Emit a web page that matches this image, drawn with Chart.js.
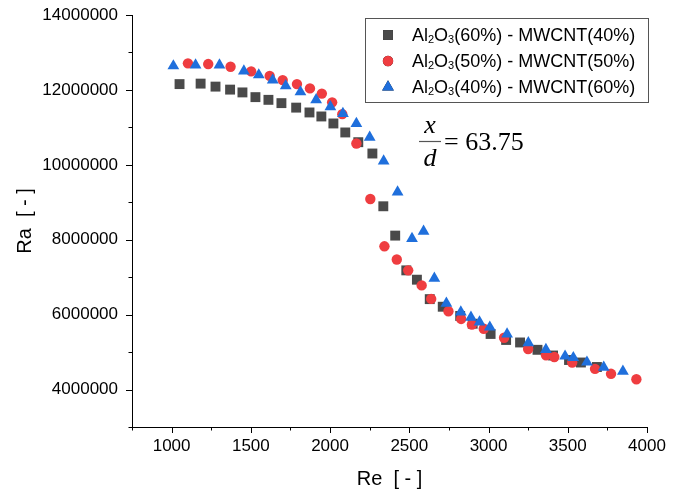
<!DOCTYPE html>
<html>
<head>
<meta charset="utf-8">
<script src="https://cdn.jsdelivr.net/npm/chart.js@4.4.0/dist/chart.umd.min.js"></script>
<style>
    html, body { margin: 0; padding: 0; background: #fff; }
    #wrap { width: 680px; height: 494px; }
</style>
</head>
<body>
<div id="wrap"><canvas id="grafico" width="680" height="494"></canvas></div>
<script>
// Valores (Re, Ra) para cada mezcla
const etiquetas = ['Al₂O₃(60%) - MWCNT(40%)', 'Al₂O₃(50%) - MWCNT(50%)', 'Al₂O₃(40%) - MWCNT(60%)'];

const reCuadros = [1050, 1183, 1277, 1369, 1447, 1529, 1611, 1693, 1786, 1870, 1945, 2021, 2096, 2178, 2267,
    2336, 2411, 2481, 2548, 2629, 2711, 2821, 2900, 3013, 3111, 3199, 3309, 3407, 3508, 3583, 3684];
const raCuadros = [12155000, 12168000, 12088000, 12008000, 11933000, 11807000, 11735000, 11647000, 11527000,
    11398000, 11291000, 11104000, 10864000, 10604000, 10302000, 8893000, 8110000, 7182000, 6933000, 6414000,
    6211000, 5965000, 5757000, 5484000, 5324000, 5257000, 5061000, 4909000, 4789000, 4722000, 4602000];

const reCirculos = [1103, 1231, 1372, 1502, 1619, 1701, 1791, 1873, 1948, 2013, 2077, 2166, 2254, 2343, 2421,
    2493, 2578, 2638, 2747, 2827, 2895, 2970, 3098, 3250, 3363, 3415, 3528, 3672, 3773, 3933];
const raCirculos = [12709000, 12690000, 12618000, 12495000, 12374000, 12262000, 12155000, 12040000, 11901000,
    11668000, 11353000, 10570000, 9086000, 7824000, 7471000, 7182000, 6781000, 6420000, 6091000, 5885000,
    5733000, 5623000, 5382000, 5083000, 4917000, 4869000, 4722000, 4553000, 4420000, 4275000];

const reTriangulos = [1011, 1151, 1302, 1456, 1550, 1638, 1720, 1813, 1912, 2002, 2081, 2166, 2250, 2338, 2426,
    2517, 2590, 2658, 2734, 2825, 2889, 2943, 3008, 3117, 3251, 3362, 3483, 3535, 3621, 3727, 3848];
const raTriangulos = [12640000, 12665000, 12665000, 12505000, 12400000, 12260000, 12110000, 11945000, 11735000,
    11550000, 11370000, 11100000, 10735000, 10100000, 9270000, 8030000, 8225000, 6970000, 6300000, 6070000,
    5930000, 5800000, 5665000, 5480000, 5250000, 5065000, 4890000, 4850000, 4730000, 4595000, 4485000];

// Marcas principales con etiqueta
const ticksX = [1000, 1500, 2000, 2500, 3000, 3500, 4000];
const ticksY = [4000000, 6000000, 8000000, 10000000, 12000000, 14000000];

const colores = ['#4a4a4a', '#ef3d40', '#1f6fdc'];
const fuente = '"Liberation Sans", Arial, sans-serif';

function armarPuntos(xs, ys) {
    return xs.map((x, i) => ({ x: x, y: ys[i] }));
}

// Texto con subindices (Al2O3)
function textoConSubindices(ctx, texto, x, y, size) {
    const subs = '₀₁₂₃₄₅₆₇₈₉';
    let cx = x;
    for (const ch of texto) {
        const k = subs.indexOf(ch);
        if (k >= 0) {
            ctx.font = Math.round(size * 0.62) + 'px ' + fuente;
            ctx.fillText(String(k), cx, y + size * 0.22);
            cx += ctx.measureText(String(k)).width;
        } else {
            ctx.font = size + 'px ' + fuente;
            ctx.fillText(ch, cx, y);
            cx += ctx.measureText(ch).width;
        }
    }
}

// Marcas mayores y menores hacia afuera de los ejes
const marcasEjes = {
    id: 'marcasEjes',
    afterDraw(chart) {
        const ctx = chart.ctx;
        const area = chart.chartArea;
        ctx.save();
        ctx.strokeStyle = '#000';
        ctx.lineWidth = 1;
        chart.scales.x.ticks.forEach(t => {
            const px = Math.round(chart.scales.x.getPixelForValue(t.value)) + 0.5;
            const largo = ticksX.includes(t.value) ? 6 : 3.5;
            ctx.beginPath();
            ctx.moveTo(px, area.bottom);
            ctx.lineTo(px, area.bottom + largo);
            ctx.stroke();
        });
        chart.scales.y.ticks.forEach(t => {
            const py = Math.round(chart.scales.y.getPixelForValue(t.value)) + 0.5;
            const largo = ticksY.includes(t.value) ? 6 : 3.5;
            ctx.beginPath();
            ctx.moveTo(area.left - largo, py);
            ctx.lineTo(area.left, py);
            ctx.stroke();
        });
        ctx.restore();
    }
};

// Leyenda con recuadro y la anotacion x/d
const leyendaYNota = {
    id: 'leyendaYNota',
    afterDraw(chart) {
        const ctx = chart.ctx;
        ctx.save();
        ctx.strokeStyle = '#555';
        ctx.lineWidth = 1;
        ctx.strokeRect(365.5, 18.5, 283, 84);

        const filas = [35, 61, 87];
        chart.data.datasets.forEach((ds, i) => {
            Chart.helpers.drawPoint(ctx, {
                pointStyle: ds.pointStyle,
                radius: ds.pointRadius,
                borderWidth: 0
            }, 388, filas[i]);
            ctx.fillStyle = ds.backgroundColor;
            ctx.fill();
            ctx.fillStyle = '#000';
            ctx.textBaseline = 'middle';
            ctx.textAlign = 'left';
            textoConSubindices(ctx, ds.label, 412, filas[i] + 1, 18);
        });

        // x/d = 63.75
        ctx.fillStyle = '#000';
        ctx.textAlign = 'center';
        ctx.textBaseline = 'alphabetic';
        ctx.font = 'italic 26px "Liberation Serif", "Times New Roman", serif';
        ctx.fillText('x', 430, 133);
        ctx.fillText('d', 430, 166);
        ctx.beginPath();
        ctx.moveTo(419, 141.5);
        ctx.lineTo(441, 141.5);
        ctx.lineWidth = 1.2;
        ctx.stroke();
        ctx.textAlign = 'left';
        ctx.font = '26px "Liberation Serif", "Times New Roman", serif';
        ctx.fillText('= 63.75', 444, 150);
        ctx.restore();
    }
};

Chart.defaults.font.family = fuente;
Chart.defaults.color = '#000';

const ctx = document.getElementById('grafico').getContext('2d');
const grafico = new Chart(ctx, {
    type: 'scatter',
    data: {
        datasets: [
            {
                label: etiquetas[0],
                data: armarPuntos(reCuadros, raCuadros),
                pointStyle: 'rect',
                pointRadius: 7,
                backgroundColor: colores[0],
                borderWidth: 0,
                order: 2
            },
            {
                label: etiquetas[1],
                data: armarPuntos(reCirculos, raCirculos),
                pointStyle: 'circle',
                pointRadius: 5.2,
                backgroundColor: colores[1],
                borderWidth: 0,
                order: 1
            },
            {
                label: etiquetas[2],
                data: armarPuntos(reTriangulos, raTriangulos),
                pointStyle: 'triangle',
                pointRadius: 6.8,
                backgroundColor: colores[2],
                borderWidth: 0,
                order: 0
            }
        ]
    },
    options: {
        responsive: false,
        animation: false,
        events: [],
        layout: { padding: { left: 0, top: 15, right: 33, bottom: 0 } },
        plugins: {
            legend: { display: false },
            tooltip: { enabled: false }
        },
        scales: {
            x: {
                type: 'linear',
                min: 750,
                max: 4000,
                afterFit: function (scale) { scale.height = 67; },
                grid: { display: false, drawTicks: false },
                border: { display: true, color: '#000', width: 1 },
                ticks: {
                    stepSize: 250,
                    maxTicksLimit: 20,
                    autoSkip: false,
                    maxRotation: 0,
                    padding: 9,
                    font: { size: 17 },
                    callback: function (v) { return ticksX.includes(v) ? String(v) : ''; }
                },
                title: {
                    display: true,
                    text: 'Re  [ - ]',
                    font: { size: 20 },
                    padding: { top: 0, bottom: 3 }
                }
            },
            y: {
                type: 'linear',
                min: 3000000,
                max: 14000000,
                afterFit: function (scale) {
                    scale.width = 132;
                    scale.paddingTop = 4;
                    scale.paddingBottom = 4;
                },
                grid: { display: false, drawTicks: false },
                border: { display: true, color: '#000', width: 1 },
                ticks: {
                    stepSize: 1000000,
                    maxTicksLimit: 20,
                    autoSkip: false,
                    padding: 14,
                    font: { size: 17 },
                    callback: function (v) { return ticksY.includes(v) ? String(v) : ''; }
                },
                title: {
                    display: true,
                    text: 'Ra  [ - ]',
                    font: { size: 20 },
                    padding: { top: 13, bottom: 0 }
                }
            }
        }
    },
    plugins: [marcasEjes, leyendaYNota]
});
</script>
</body>
</html>
